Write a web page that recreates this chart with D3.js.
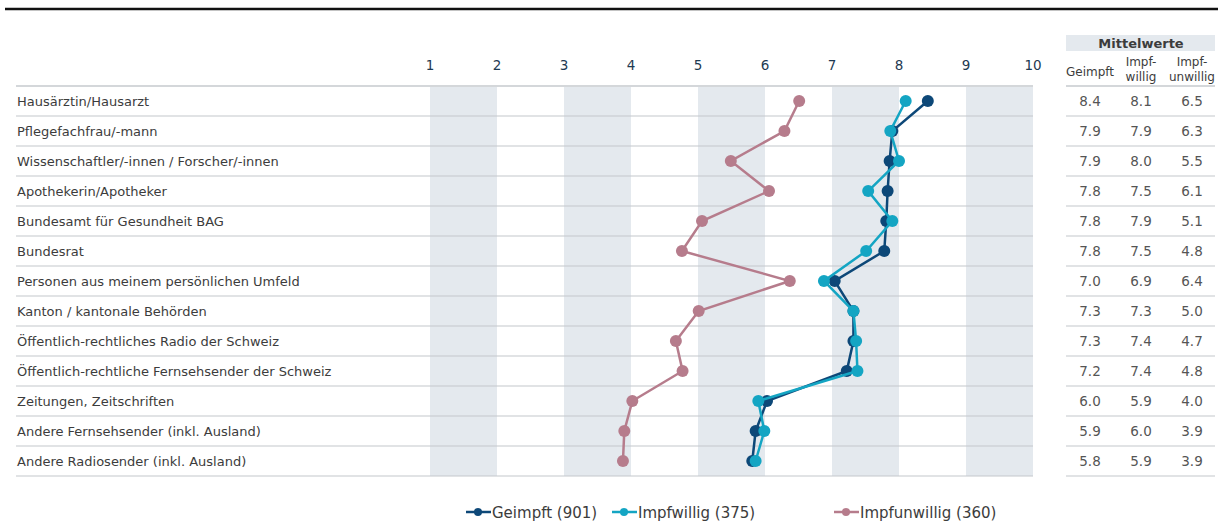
<!DOCTYPE html>
<html>
<head>
<meta charset="utf-8">
<script src="https://cdn.jsdelivr.net/npm/d3@7/dist/d3.min.js"></script>
<style>
  body { margin: 0; background: #fff; }
  svg { font-family: "DejaVu Sans", Verdana, sans-serif; }
</style>
</head>
<body>
<div id="chart"></div>
<script>
const categories = [
  "Hausärztin/Hausarzt",
  "Pflegefachfrau/-mann",
  "Wissenschaftler/-innen / Forscher/-innen",
  "Apothekerin/Apotheker",
  "Bundesamt für Gesundheit BAG",
  "Bundesrat",
  "Personen aus meinem persönlichen Umfeld",
  "Kanton / kantonale Behörden",
  "Öffentlich-rechtliches Radio der Schweiz",
  "Öffentlich-rechtliche Fernsehsender der Schweiz",
  "Zeitungen, Zeitschriften",
  "Andere Fernsehsender (inkl. Ausland)",
  "Andere Radiosender (inkl. Ausland)"
];

const geimpft      = [8.43, 7.90, 7.86, 7.83, 7.81, 7.78, 7.04, 7.32, 7.32, 7.22, 6.03, 5.86, 5.81];
const impfwillig   = [8.10, 7.87, 8.00, 7.54, 7.90, 7.51, 6.88, 7.32, 7.36, 7.38, 5.90, 5.99, 5.86];
const impfunwillig = [6.51, 6.29, 5.49, 6.06, 5.06, 4.76, 6.37, 5.01, 4.67, 4.77, 4.02, 3.90, 3.88];

const seriesNames = ["Geimpft (901)", "Impfwillig (375)", "Impfunwillig (360)"];
const tableHeads = [["Geimpft"], ["Impf-", "willig"], ["Impf-", "unwillig"]];
const ticks = [1, 2, 3, 4, 5, 6, 7, 8, 9, 10];

const width = 1218, height = 523;
const colors = ["#0d4878", "#14a5c3", "#b67c8c"];

const svg = d3.select("#chart").append("svg")
  .attr("width", width)
  .attr("height", height);

const x = d3.scaleLinear().domain([1, 10]).range([430, 1033]);
const y = d3.scaleBand().domain(categories).range([86, 476]);
const rowY = d => y(d) + y.bandwidth() / 2;

// black rule at top
svg.append("line")
  .attr("x1", 5).attr("x2", width)
  .attr("y1", 9).attr("y2", 9)
  .attr("stroke", "#111").attr("stroke-width", 2.5);

// grey bands
svg.selectAll(".band")
  .data([1, 3, 5, 7, 9])
  .enter().append("rect")
  .attr("x", d => x(d))
  .attr("y", y.range()[0])
  .attr("width", d => x(d + 1) - x(d))
  .attr("height", y.range()[1] - y.range()[0])
  .attr("fill", "#e4e9ee");

// axis numbers on top
svg.selectAll(".tick")
  .data(ticks)
  .enter().append("text")
  .attr("x", d => x(d))
  .attr("y", 70)
  .attr("text-anchor", "middle")
  .style("font-size", "13.5px")
  .attr("fill", "#1e3a52")
  .text(d => d);

// row lines
svg.append("line")
  .attr("x1", 16).attr("x2", 1033)
  .attr("y1", y.range()[0]).attr("y2", y.range()[0])
  .attr("stroke", "#d4d7da").attr("stroke-width", 2);
svg.selectAll(".rowline")
  .data(categories)
  .enter().append("line")
  .attr("x1", 16).attr("x2", 1033)
  .attr("y1", d => y(d) + y.bandwidth())
  .attr("y2", d => y(d) + y.bandwidth())
  .attr("stroke", "#c3c7cb").attr("stroke-width", 1.2);

// category labels
svg.selectAll(".label")
  .data(categories)
  .enter().append("text")
  .attr("x", 17)
  .attr("y", d => rowY(d) + 5)
  .style("font-size", "13px")
  .attr("fill", "#3c3c3c")
  .text(d => d);

// series
const allSeries = [geimpft, impfwillig, impfunwillig];
const line = d3.line()
  .x(d => x(d.v))
  .y(d => rowY(d.c));

allSeries.forEach((vals, i) => {
  const pts = vals.map((v, j) => ({ v: v, c: categories[j] }));
  const g = svg.append("g");
  g.append("path")
    .datum(pts)
    .attr("d", line)
    .attr("fill", "none")
    .attr("stroke", colors[i])
    .attr("stroke-width", 2.5);
  g.selectAll("circle")
    .data(pts)
    .enter().append("circle")
    .attr("cx", d => x(d.v))
    .attr("cy", d => rowY(d.c))
    .attr("r", 6)
    .attr("fill", colors[i]);
});

// Mittelwerte table
const colX = [1090, 1141, 1192];
svg.append("rect")
  .attr("x", 1066).attr("y", 35)
  .attr("width", 149).attr("height", 16)
  .attr("fill", "#e4e9ee");
svg.append("text")
  .attr("x", 1141).attr("y", 48)
  .attr("text-anchor", "middle")
  .style("font-size", "13px")
  .style("font-weight", "bold")
  .attr("fill", "#3c3c3c")
  .text("Mittelwerte");

tableHeads.forEach((lines, i) => {
  const t = svg.append("text")
    .attr("text-anchor", "middle")
    .style("font-size", "12px")
    .attr("fill", "#3c3c3c");
  lines.forEach((s, k) => {
    t.append("tspan")
      .attr("x", colX[i])
      .attr("y", lines.length === 1 ? 76 : 66 + k * 15)
      .text(s);
  });
});

svg.append("line")
  .attr("x1", 1066).attr("x2", 1215)
  .attr("y1", y.range()[0]).attr("y2", y.range()[0])
  .attr("stroke", "#d4d7da").attr("stroke-width", 2);
svg.selectAll(".tline")
  .data(categories)
  .enter().append("line")
  .attr("x1", 1066).attr("x2", 1215)
  .attr("y1", d => y(d) + y.bandwidth())
  .attr("y2", d => y(d) + y.bandwidth())
  .attr("stroke", "#c3c7cb").attr("stroke-width", 1.2);

allSeries.forEach((vals, i) => {
  svg.selectAll(".tv" + i)
    .data(vals)
    .enter().append("text")
    .attr("x", colX[i])
    .attr("y", (d, j) => rowY(categories[j]) + 5)
    .attr("text-anchor", "middle")
    .style("font-size", "13.5px")
    .attr("fill", "#555")
    .text(d => (Math.round(d * 10) / 10).toFixed(1));
});

// legend
const legendX = [466, 612, 834];
seriesNames.forEach((name, i) => {
  const g = svg.append("g").attr("transform", `translate(${legendX[i]},512)`);
  g.append("line").attr("x1", 0).attr("x2", 25)
    .attr("stroke", colors[i]).attr("stroke-width", 2.5);
  g.append("circle").attr("cx", 12).attr("r", 4).attr("fill", colors[i]);
  g.append("text").attr("x", 26).attr("y", 5.5)
    .style("font-size", "15px")
    .attr("fill", "#3c3c3c")
    .text(name);
});
</script>
</body>
</html>
